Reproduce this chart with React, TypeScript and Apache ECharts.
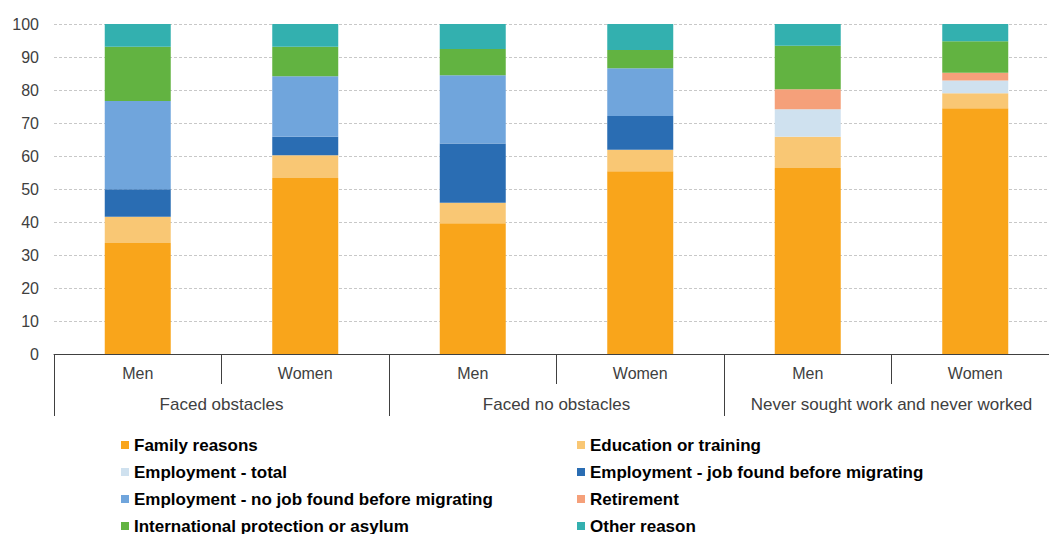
import React, { useEffect, useRef } from "react";
import * as echarts from "echarts";

const subCategories = ["Men", "Women", "Men", "Women", "Men", "Women"];
const groups = ["Faced obstacles", "Faced no obstacles", "Never sought work and never worked"];

const familyReasons = [33.6, 53.3, 39.6, 55.4, 56.4, 74.5];
const education = [8.0, 6.9, 6.2, 6.5, 9.4, 4.5];
const employmentTotal = [null, null, null, null, 8.4, 3.9];
const jobFound = [8.3, 5.6, 18.0, 10.2, null, null];
const noJobFound = [26.8, 18.4, 20.7, 14.5, null, null];
const retirement = [null, null, null, null, 6.0, 2.3];
const asylum = [16.4, 8.9, 7.9, 5.5, 13.2, 9.6];
const otherReason = [6.9, 6.9, 7.6, 7.9, 6.6, 5.2];

const seriesDefs = [
  { name: "Family reasons", data: familyReasons, color: "#F9A51B" },
  { name: "Education or training", data: education, color: "#F9C774" },
  { name: "Employment - total", data: employmentTotal, color: "#CFE1EF" },
  { name: "Employment - job found before migrating", data: jobFound, color: "#2A6DB3" },
  { name: "Employment - no job found before migrating", data: noJobFound, color: "#70A5DC" },
  { name: "Retirement", data: retirement, color: "#F5A07A" },
  { name: "International protection or asylum", data: asylum, color: "#62B341" },
  { name: "Other reason", data: otherReason, color: "#33B0AF" },
];

const legendLeft = [
  "Family reasons",
  "Employment - total",
  "Employment - no job found before migrating",
  "International protection or asylum",
];
const legendRight = [
  "Education or training",
  "Employment - job found before migrating",
  "Retirement",
  "Other reason",
];

const FONT = "Liberation Sans, Arial, sans-serif";
const TEXT = "#404040";

export default function App() {
  const ref = useRef<HTMLDivElement>(null);
  useEffect(() => {
    if (!ref.current) return;
    const chart = echarts.init(ref.current, null, { renderer: "svg" });
    const legendCommon = {
      orient: "vertical",
      top: 436,
      height: 200,
      padding: 0,
      itemWidth: 8,
      itemHeight: 8,
      itemGap: 9,
      icon: "rect",
      selectedMode: false,
      textStyle: {
        fontFamily: FONT,
        fontSize: 17,
        fontWeight: "bold",
        color: "#000",
        lineHeight: 18,
      },
    };
    chart.setOption({
      animation: false,
      backgroundColor: "#fff",
      grid: {
        left: 54,
        width: 1005,
        top: 24,
        height: 330,
        outerBoundsMode: "none",
        containLabel: false,
      },
      legend: [
        { ...legendCommon, left: 121, data: legendLeft },
        { ...legendCommon, left: 577, data: legendRight },
      ],
      xAxis: [
        {
          type: "category",
          data: subCategories,
          position: "bottom",
          axisLine: { lineStyle: { color: TEXT, width: 1 } },
          axisTick: { show: true, length: 30, interval: 0, lineStyle: { color: TEXT } },
          axisLabel: {
            interval: 0,
            margin: 11,
            fontFamily: FONT,
            fontSize: 16,
            color: TEXT,
          },
        },
        {
          type: "category",
          data: groups,
          position: "bottom",
          axisLine: { show: false },
          axisTick: { show: true, length: 62, interval: 0, lineStyle: { color: TEXT } },
          axisLabel: {
            interval: 0,
            margin: 42,
            fontFamily: FONT,
            fontSize: 17,
            color: TEXT,
          },
        },
      ],
      yAxis: {
        type: "value",
        min: 0,
        max: 100,
        interval: 10,
        axisLine: { show: false },
        axisTick: { show: false },
        axisLabel: { margin: 15, fontFamily: FONT, fontSize: 16, color: TEXT },
        splitLine: { lineStyle: { color: "#C8C8C8", type: [3, 2], width: 1 } },
      },
      series: seriesDefs.map((s) => ({
        name: s.name,
        type: "bar",
        stack: "total",
        xAxisIndex: 0,
        barWidth: "39.4%",
        data: s.data,
        itemStyle: { color: s.color },
      })),
    });
    return () => chart.dispose();
  }, []);
  return (
    <div
      ref={ref}
      style={{ position: "fixed", left: 0, top: 0, width: 1049, height: 534 }}
    />
  );
}
